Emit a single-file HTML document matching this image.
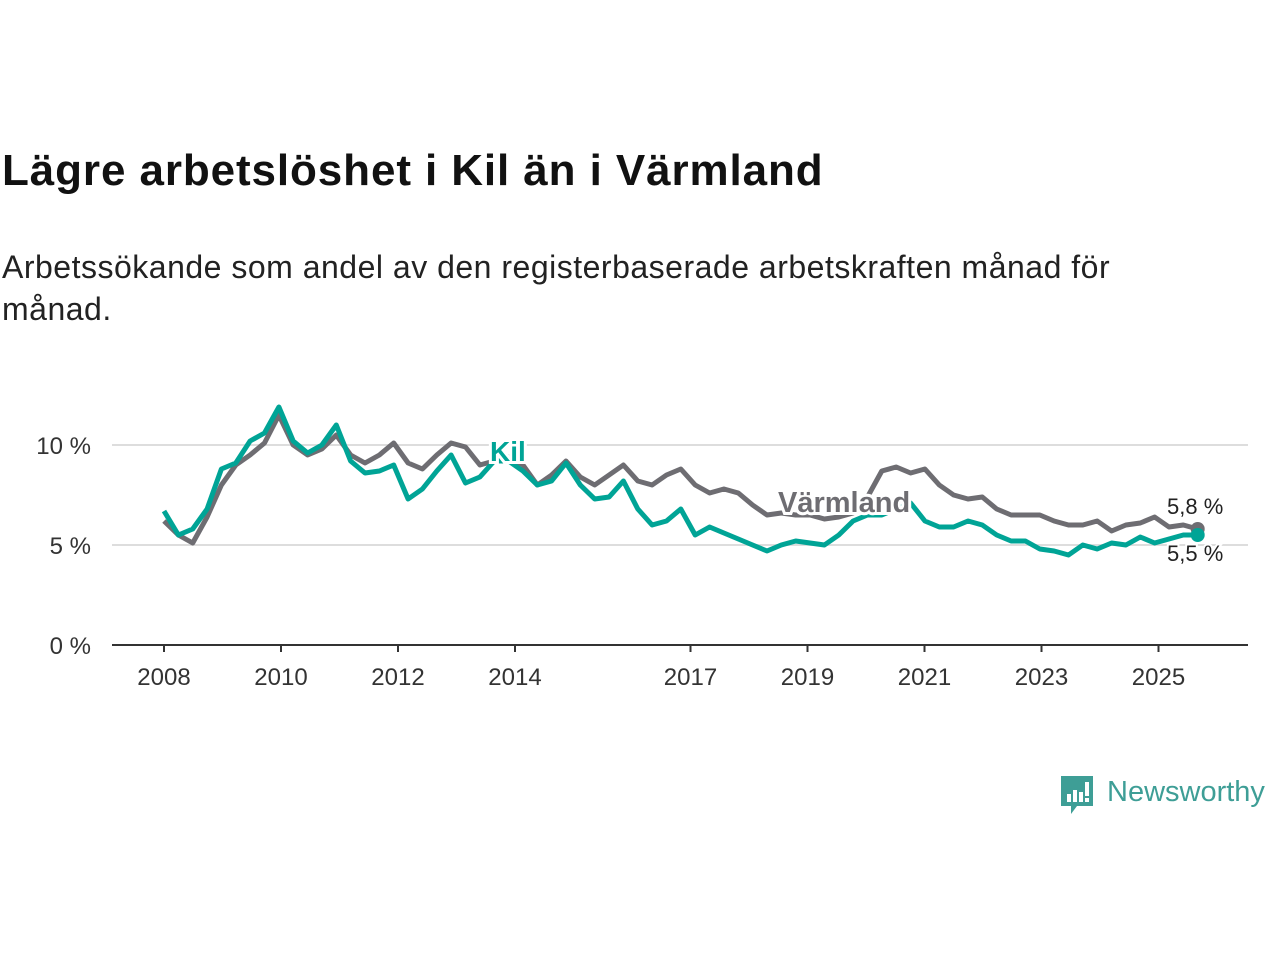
<!DOCTYPE html>
<html><head><meta charset="utf-8">
<style>
body{margin:0;width:1280px;height:960px;background:#fff;font-family:"Liberation Sans",sans-serif;overflow:hidden;position:relative}
h1{position:absolute;left:2px;top:146px;margin:0;font-size:44px;font-weight:bold;color:#111;letter-spacing:0.9px}
.sub{position:absolute;left:2px;top:246px;margin:0;font-size:32px;line-height:42px;color:#222;width:1200px;letter-spacing:0.5px}
svg{position:absolute;left:0;top:0}
</style></head><body>
<h1>Lägre arbetslöshet i Kil än i Värmland</h1>
<p class="sub">Arbetssökande som andel av den registerbaserade arbetskraften månad för månad.</p>
<svg id="chart" width="1280" height="960"></svg>
<div style="position:absolute;left:1059px;top:774px;display:flex;align-items:center">
<svg width="36" height="44" style="position:static"><path d="M2 2h32v30H18l-6 8v-8H2z" fill="#3e9e96"/><rect x="8" y="20" width="4" height="8" fill="#fff"/><rect x="14" y="16" width="4" height="12" fill="#fff"/><rect x="20" y="18" width="4" height="10" fill="#fff"/><rect x="26" y="8" width="4" height="14" fill="#fff"/><rect x="26" y="24" width="4" height="4" fill="#fff"/></svg>
<span style="font-size:29px;color:#3e9e96;margin-left:12px;margin-top:-8px">Newsworthy</span></div>
<script>
const vValues=[6.2,5.5,5.1,6.4,8.0,9.0,9.5,10.1,11.5,10.0,9.5,9.8,10.5,9.5,9.1,9.5,10.1,9.1,8.8,9.5,10.1,9.9,9.0,9.2,9.4,9.0,8.0,8.5,9.2,8.4,8.0,8.5,9.0,8.2,8.0,8.5,8.8,8.0,7.6,7.8,7.6,7.0,6.5,6.6,6.5,6.5,6.3,6.4,6.6,7.4,8.7,8.9,8.6,8.8,8.0,7.5,7.3,7.4,6.8,6.5,6.5,6.5,6.2,6.0,6.0,6.2,5.7,6.0,6.1,6.4,5.9,6.0,5.8];
const kValues=[6.7,5.5,5.8,6.8,8.8,9.1,10.2,10.6,11.9,10.2,9.6,10.0,11.0,9.2,8.6,8.7,9.0,7.3,7.8,8.7,9.5,8.1,8.4,9.2,9.2,8.7,8.0,8.2,9.1,8.0,7.3,7.4,8.2,6.8,6.0,6.2,6.8,5.5,5.9,5.6,5.3,5.0,4.7,5.0,5.2,5.1,5.0,5.5,6.2,6.5,6.5,6.8,7.1,6.2,5.9,5.9,6.2,6.0,5.5,5.2,5.2,4.8,4.7,4.5,5.0,4.8,5.1,5.0,5.4,5.1,5.3,5.5,5.5];
const yTicks=[0,5,10];
const yTickLabels=["0 %","5 %","10 %"];
const xTicks=[2008,2010,2012,2014,2017,2019,2021,2023,2025];
const startYear=2008, endYear=2025.67;
const dates=vValues.map((_,i)=>startYear+i*(endYear-startYear)/(vValues.length-1));
const NS='http://www.w3.org/2000/svg';
const svg=document.getElementById('chart');
const X=t=>164+(t-2008)*58.5;
const Y=v=>645-v*20;
function el(tag,attrs,parent){const e=document.createElementNS(NS,tag);for(const k in attrs)e.setAttribute(k,attrs[k]);(parent||svg).appendChild(e);return e;}
yTicks.forEach((v,i)=>{
 if(v>0){const g=el('line',{x1:112,x2:1248,y1:Y(v),y2:Y(v),stroke:'#ddd','stroke-width':2});
 
 }
 const t=el('text',{x:91,y:Y(v)+9,'text-anchor':'end','font-size':24,fill:'#333'});
 t.textContent=yTickLabels[i];
 
 
});
const ax=el('line',{x1:112,x2:1248,y1:645,y2:645,stroke:'#333','stroke-width':2});


xTicks.forEach(y=>{
 const tk=el('line',{x1:X(y),x2:X(y),y1:645,y2:652,stroke:'#333','stroke-width':2});
 
 
 const t=el('text',{x:X(y),y:685,'text-anchor':'middle','font-size':24,fill:'#333'});
 t.textContent=y;
 
 
});
function line(vals,color,name){
 const d=vals.map((v,i)=>(i?'L':'M')+X(dates[i]).toFixed(1)+' '+Y(v).toFixed(1)).join(' ');
 const p=el('path',{d:d,fill:'none',stroke:color,'stroke-width':5,'stroke-linejoin':'round'});
 
 
 const n=vals.length-1;
 const c=el('circle',{cx:X(dates[n]),cy:Y(vals[n]),r:7,fill:color});
 
 
}
line(vValues,'#6e6d72','varmland-line');
line(kValues,'#00a496','kil-line');
function label(txt,x,y,color,size,bold,name){
 const t=el('text',{x:x,y:y,'font-size':size,'font-weight':bold?'bold':'normal',fill:color,stroke:'#fff','stroke-width':bold?6:4,'paint-order':'stroke'});
 t.textContent=txt;
 
 
}
label('Kil',490,461,'#00a496',28,true,'kil-label');
label('Värmland',778,512,'#6e6d72',29,true,'varmland-label');
label('5,8 %',1167,514,'#222',22,false,'varmland-value-label');
label('5,5 %',1167,561,'#222',22,false,'kil-value-label');
</script>
</body></html>
